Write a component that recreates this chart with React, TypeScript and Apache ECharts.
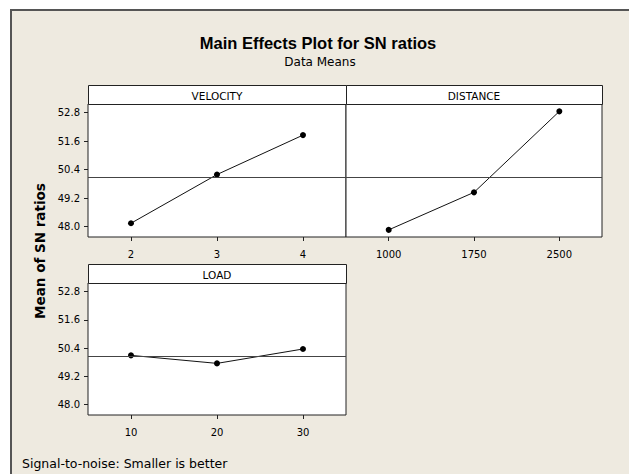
import React, { useEffect, useRef } from "react";
import * as echarts from "echarts";

// ---- data ----
const Y_TICKS = [48.0, 49.2, 50.4, 51.6, 52.8];
const FACTORS = ["VELOCITY", "DISTANCE", "LOAD"];
const VELOCITY_LEVELS = [2, 3, 4];
const VELOCITY_SN = [48.14, 50.19, 51.85];
const DISTANCE_LEVELS = [1000, 1750, 2500];
const DISTANCE_SN = [47.86, 49.44, 52.85];
const LOAD_LEVELS = [10, 20, 30];
const LOAD_SN = [50.09, 49.75, 50.36];

const TITLE = "Main Effects Plot for SN ratios";
const SUBTITLE = "Data Means";
const Y_NAME = "Mean of SN ratios";
const FOOTNOTE = "Signal-to-noise: Smaller is better";

const Y_MIN = 47.56;
const Y_MAX = 53.16;

const BG = "#EEEAE0";
const FONT = "DejaVu Sans";

const GRIDS = [
  { left: 88, top: 104, width: 258, height: 133 },
  { left: 346, top: 104, width: 256, height: 133 },
  { left: 88, top: 283, width: 258, height: 132 },
];
const HEADER_H = 19;

export default function App() {
  const ref = useRef<HTMLDivElement>(null);
  useEffect(() => {
    document.body.style.margin = "0";
    const chart = echarts.init(ref.current!, undefined, { renderer: "svg" });
    const levels = [VELOCITY_LEVELS, DISTANCE_LEVELS, LOAD_LEVELS];
    const values = [VELOCITY_SN, DISTANCE_SN, LOAD_SN];
    const all = values.flat();
    const grandMean = all.reduce((a, b) => a + b, 0) / all.length;

    const xAxes = levels.map((lv, i) => {
      const step = lv[1] - lv[0];
      return {
        type: "value",
        gridIndex: i,
        min: lv[0] - step / 2,
        max: lv[lv.length - 1] + step / 2,
        axisLine: { show: false },
        splitLine: { show: false },
        axisTick: {
          show: true,
          customValues: lv,
          length: 4,
          lineStyle: { color: "#222", width: 1 },
        },
        axisLabel: {
          customValues: lv,
          margin: 12,
          color: "#000",
          fontFamily: FONT,
          fontSize: 10,
          formatter: (v: number) => String(v),
        },
      };
    });
    const yAxes = [0, 1, 2].map((i) => ({
      type: "value",
      gridIndex: i,
      min: Y_MIN,
      max: Y_MAX,
      axisLine: { show: false },
      splitLine: { show: false },
      axisTick: {
        show: i !== 1,
        customValues: Y_TICKS,
        length: 4,
        lineStyle: { color: "#222", width: 1 },
      },
      axisLabel: {
        show: i !== 1,
        customValues: Y_TICKS,
        margin: 8,
        color: "#000",
        fontFamily: FONT,
        fontSize: 10,
        formatter: (v: number) => v.toFixed(1),
      },
    }));
    const series = values.map((vals, i) => ({
      type: "line",
      xAxisIndex: i,
      yAxisIndex: i,
      data: vals.map((v, k) => [levels[i][k], v]),
      symbol: "circle",
      symbolSize: 6,
      itemStyle: { color: "#000" },
      lineStyle: { color: "#111", width: 1 },
      markLine: {
        silent: true,
        symbol: "none",
        label: { show: false },
        lineStyle: { color: "#444", width: 1, type: "solid" },
        data: [{ yAxis: grandMean }],
      },
    }));

    const graphic: any[] = [
      { type: "rect", shape: { x: 0, y: 0, width: 629, height: 9 }, style: { fill: "#fff" } },
      { type: "rect", shape: { x: 0, y: 0, width: 10, height: 474 }, style: { fill: "#fff" } },
      {
        type: "polyline",
        shape: { points: [[11, 474], [11, 10], [629, 10]] },
        style: { stroke: "#555", lineWidth: 2, fill: null },
      },
      {
        type: "text",
        x: 318,
        y: 43,
        style: {
          text: TITLE,
          textAlign: "center",
          textVerticalAlign: "middle",
          fontFamily: "Liberation Sans",
          fontWeight: "bold",
          fontSize: 16.5,
          fill: "#000",
        },
      },
      {
        type: "text",
        x: 320,
        y: 62,
        style: {
          text: SUBTITLE,
          textAlign: "center",
          textVerticalAlign: "middle",
          fontFamily: FONT,
          fontSize: 12,
          fill: "#000",
        },
      },
      {
        type: "text",
        x: 40,
        y: 251,
        rotation: Math.PI / 2,
        style: {
          text: Y_NAME,
          textAlign: "center",
          textVerticalAlign: "middle",
          fontFamily: FONT,
          fontWeight: "bold",
          fontSize: 13.5,
          fill: "#000",
        },
      },
      {
        type: "text",
        x: 22,
        y: 463,
        style: {
          text: FOOTNOTE,
          textAlign: "left",
          textVerticalAlign: "middle",
          fontFamily: FONT,
          fontSize: 12.5,
          fill: "#000",
        },
      },
    ];
    GRIDS.forEach((g, i) => {
      graphic.push({
        type: "rect",
        shape: { x: g.left + 0.5, y: g.top - HEADER_H + 0.5, width: g.width, height: HEADER_H },
        style: { fill: "#fff", stroke: "#222", lineWidth: 1 },
      });
      graphic.push({
        type: "text",
        x: g.left + g.width / 2,
        y: g.top - HEADER_H / 2 + 1,
        style: {
          text: FACTORS[i],
          textAlign: "center",
          textVerticalAlign: "middle",
          fontFamily: FONT,
          fontSize: 10.5,
          fill: "#000",
        },
      });
    });

    chart.setOption({
      animation: false,
      backgroundColor: BG,
      grid: GRIDS.map((g) => ({
        ...g,
        show: true,
        backgroundColor: "#fff",
        borderColor: "#222",
        borderWidth: 1,
        containLabel: false,
      })),
      xAxis: xAxes,
      yAxis: yAxes,
      series,
      graphic,
    });
    return () => chart.dispose();
  }, []);
  return <div ref={ref} style={{ width: 629, height: 474 }} />;
}
